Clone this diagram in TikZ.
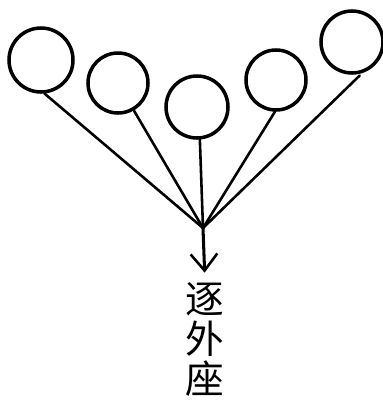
\documentclass[tikz,border=0pt]{standalone}
\usepackage{fontspec}
\newfontfamily\cjk{Noto Sans CJK SC}
\usetikzlibrary{arrows.meta, positioning}
\tikzset{
  every picture/.style={line width=1.6pt},
  ring/.style={draw, circle, line width=3pt, minimum size=#1, inner sep=0pt},
  ring/.default=1.86cm,
  spoke/.style={line width=2.2pt, line cap=round},
  arrow/.style={-{Straight Barb[length=5mm, width=8mm, line width=2.2pt]}, line width=2.6pt},
  label/.style={font=\cjk\fontsize{33}{34}\selectfont, align=center, inner sep=0pt},
}

\begin{document}
\begin{tikzpicture}[x=0.03cm, y=-0.03cm]
  \useasboundingbox (0,0) rectangle (383,406);
  \node[ring=1.92cm] (c1) at (41,60) {};
  \node[ring=1.8cm] (c2) at (118,83) {};
  \node[ring] (c3) at (197,107) {};
  \node[ring=1.8cm] (c4) at (276,80) {};
  \node[ring] (c5) at (352,42) {};
  \coordinate (hub) at (203,228);
  \node[label, anchor=north] (name) at (205,282) {逐\\外\\座};

  \draw[spoke] (c1.-84) -- (hub);
  \draw[spoke] (c2.-60) -- (hub);
  \draw[spoke] (c3.-85) -- (hub);
  \draw[spoke] (c4.-92) -- (hub);
  \draw[spoke, shorten <=3pt] (c5.-72) -- (hub);
  \draw[arrow, shorten >=8pt] (hub) -- (name.north);
\end{tikzpicture}
\end{document}
